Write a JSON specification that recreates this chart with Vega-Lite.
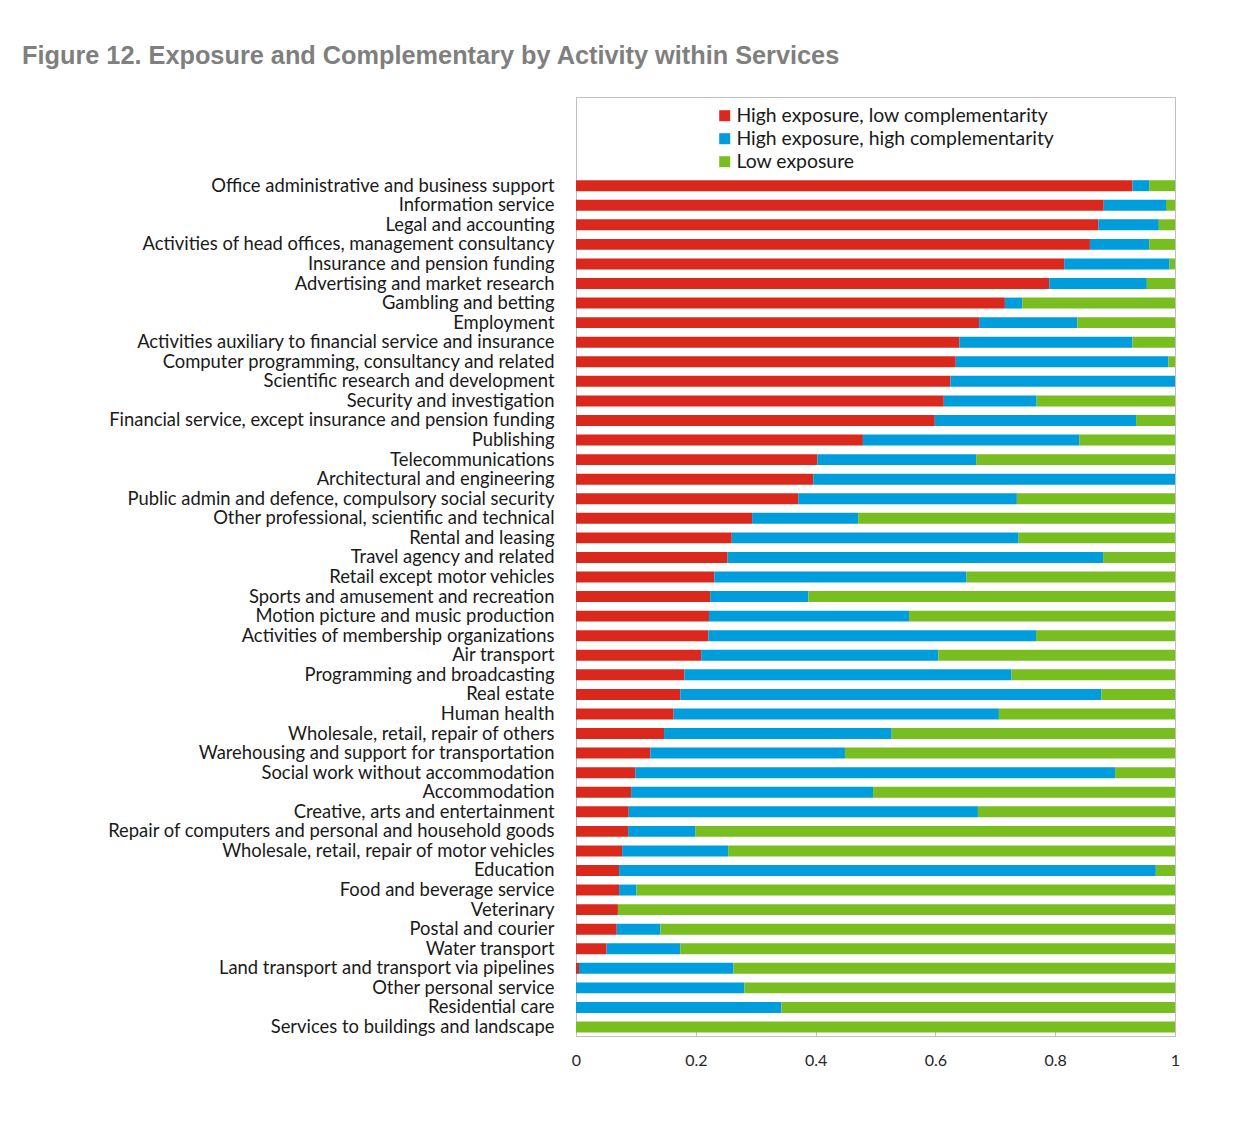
{
  "$schema": "https://vega.github.io/schema/vega-lite/v6.json",
  "autosize": {"type": "none"},
  "padding": {"left": 576, "top": 97, "right": 77, "bottom": 92},
  "width": 599,
  "height": 939,
  "background": "white",
  "title": {
    "text": "Figure 12. Exposure and Complementary by Activity within Services",
    "anchor": "start",
    "frame": "group",
    "dx": -554,
    "offset": 8,
    "baseline": "alphabetic",
    "font": "Liberation Sans",
    "fontSize": 25.3,
    "fontWeight": "bold",
    "color": "#7f7f7f"
  },
  "data": {
    "values": [
      {"activity": "Office administrative and business support", "High exposure, low complementarity": 0.929, "High exposure, high complementarity": 0.028, "Low exposure": 0.043},
      {"activity": "Information service", "High exposure, low complementarity": 0.881, "High exposure, high complementarity": 0.104, "Low exposure": 0.015},
      {"activity": "Legal and accounting", "High exposure, low complementarity": 0.872, "High exposure, high complementarity": 0.101, "Low exposure": 0.027},
      {"activity": "Activities of head offices, management consultancy", "High exposure, low complementarity": 0.858, "High exposure, high complementarity": 0.099, "Low exposure": 0.043},
      {"activity": "Insurance and pension funding", "High exposure, low complementarity": 0.815, "High exposure, high complementarity": 0.176, "Low exposure": 0.009},
      {"activity": "Advertising and market research", "High exposure, low complementarity": 0.790, "High exposure, high complementarity": 0.163, "Low exposure": 0.047},
      {"activity": "Gambling and betting", "High exposure, low complementarity": 0.716, "High exposure, high complementarity": 0.029, "Low exposure": 0.255},
      {"activity": "Employment", "High exposure, low complementarity": 0.673, "High exposure, high complementarity": 0.164, "Low exposure": 0.163},
      {"activity": "Activities auxiliary to financial service and insurance", "High exposure, low complementarity": 0.640, "High exposure, high complementarity": 0.289, "Low exposure": 0.071},
      {"activity": "Computer programming, consultancy and related", "High exposure, low complementarity": 0.634, "High exposure, high complementarity": 0.355, "Low exposure": 0.011},
      {"activity": "Scientific research and development", "High exposure, low complementarity": 0.625, "High exposure, high complementarity": 0.375, "Low exposure": 0},
      {"activity": "Security and investigation", "High exposure, low complementarity": 0.614, "High exposure, high complementarity": 0.155, "Low exposure": 0.231},
      {"activity": "Financial service, except insurance and pension funding", "High exposure, low complementarity": 0.599, "High exposure, high complementarity": 0.336, "Low exposure": 0.065},
      {"activity": "Publishing", "High exposure, low complementarity": 0.479, "High exposure, high complementarity": 0.361, "Low exposure": 0.160},
      {"activity": "Telecommunications", "High exposure, low complementarity": 0.403, "High exposure, high complementarity": 0.265, "Low exposure": 0.332},
      {"activity": "Architectural and engineering", "High exposure, low complementarity": 0.396, "High exposure, high complementarity": 0.604, "Low exposure": 0},
      {"activity": "Public admin and defence, compulsory social security", "High exposure, low complementarity": 0.371, "High exposure, high complementarity": 0.365, "Low exposure": 0.264},
      {"activity": "Other professional, scientific and technical", "High exposure, low complementarity": 0.294, "High exposure, high complementarity": 0.177, "Low exposure": 0.529},
      {"activity": "Rental and leasing", "High exposure, low complementarity": 0.260, "High exposure, high complementarity": 0.479, "Low exposure": 0.261},
      {"activity": "Travel agency and related", "High exposure, low complementarity": 0.253, "High exposure, high complementarity": 0.627, "Low exposure": 0.120},
      {"activity": "Retail except motor vehicles", "High exposure, low complementarity": 0.231, "High exposure, high complementarity": 0.421, "Low exposure": 0.348},
      {"activity": "Sports  and amusement and recreation", "High exposure, low complementarity": 0.224, "High exposure, high complementarity": 0.164, "Low exposure": 0.612},
      {"activity": "Motion picture and music production", "High exposure, low complementarity": 0.222, "High exposure, high complementarity": 0.334, "Low exposure": 0.444},
      {"activity": "Activities of membership organizations", "High exposure, low complementarity": 0.221, "High exposure, high complementarity": 0.547, "Low exposure": 0.232},
      {"activity": "Air transport", "High exposure, low complementarity": 0.209, "High exposure, high complementarity": 0.396, "Low exposure": 0.395},
      {"activity": "Programming and broadcasting", "High exposure, low complementarity": 0.181, "High exposure, high complementarity": 0.546, "Low exposure": 0.273},
      {"activity": "Real estate", "High exposure, low complementarity": 0.174, "High exposure, high complementarity": 0.703, "Low exposure": 0.123},
      {"activity": "Human health", "High exposure, low complementarity": 0.163, "High exposure, high complementarity": 0.543, "Low exposure": 0.294},
      {"activity": "Wholesale, retail, repair of others", "High exposure, low complementarity": 0.147, "High exposure, high complementarity": 0.380, "Low exposure": 0.473},
      {"activity": "Warehousing and support  for transportation", "High exposure, low complementarity": 0.124, "High exposure, high complementarity": 0.325, "Low exposure": 0.551},
      {"activity": "Social work  without accommodation", "High exposure, low complementarity": 0.099, "High exposure, high complementarity": 0.801, "Low exposure": 0.100},
      {"activity": "Accommodation", "High exposure, low complementarity": 0.092, "High exposure, high complementarity": 0.404, "Low exposure": 0.504},
      {"activity": "Creative, arts and entertainment", "High exposure, low complementarity": 0.088, "High exposure, high complementarity": 0.583, "Low exposure": 0.329},
      {"activity": "Repair of computers and personal and household goods", "High exposure, low complementarity": 0.087, "High exposure, high complementarity": 0.112, "Low exposure": 0.801},
      {"activity": "Wholesale, retail, repair of motor vehicles", "High exposure, low complementarity": 0.077, "High exposure, high complementarity": 0.177, "Low exposure": 0.746},
      {"activity": "Education", "High exposure, low complementarity": 0.072, "High exposure, high complementarity": 0.896, "Low exposure": 0.032},
      {"activity": "Food and beverage service", "High exposure, low complementarity": 0.072, "High exposure, high complementarity": 0.029, "Low exposure": 0.899},
      {"activity": "Veterinary", "High exposure, low complementarity": 0.070, "High exposure, high complementarity": 0, "Low exposure": 0.930},
      {"activity": "Postal and courier", "High exposure, low complementarity": 0.068, "High exposure, high complementarity": 0.073, "Low exposure": 0.859},
      {"activity": "Water transport", "High exposure, low complementarity": 0.051, "High exposure, high complementarity": 0.123, "Low exposure": 0.826},
      {"activity": "Land transport and transport via pipelines", "High exposure, low complementarity": 0.005, "High exposure, high complementarity": 0.258, "Low exposure": 0.737},
      {"activity": "Other personal service", "High exposure, low complementarity": 0, "High exposure, high complementarity": 0.281, "Low exposure": 0.719},
      {"activity": "Residential care", "High exposure, low complementarity": 0, "High exposure, high complementarity": 0.343, "Low exposure": 0.657},
      {"activity": "Services to buildings and landscape", "High exposure, low complementarity": 0, "High exposure, high complementarity": 0, "Low exposure": 1}
    ]
  },
  "transform": [
    {"fold": ["High exposure, low complementarity", "High exposure, high complementarity", "Low exposure"], "as": ["segment", "share"]},
    {"calculate": "indexof(['High exposure, low complementarity', 'High exposure, high complementarity', 'Low exposure'], datum.segment)", "as": "k"}
  ],
  "mark": {"type": "bar"},
  "encoding": {
    "y": {
      "field": "activity",
      "type": "nominal",
      "sort": null,
      "scale": {"paddingInner": 0.44, "paddingOuter": 0, "range": [83.2, 935.5]},
      "axis": {
        "title": null,
        "ticks": false,
        "domain": false,
        "labelFont": "Lato",
        "labelFontSize": 18.4,
        "labelColor": "#1a1a1a",
        "labelPadding": 22,
        "labelLimit": 600
      }
    },
    "x": {
      "field": "share",
      "type": "quantitative",
      "stack": "zero",
      "scale": {"domain": [0, 1], "nice": false},
      "axis": {
        "title": null,
        "grid": false,
        "domain": false,
        "values": [0, 0.2, 0.4, 0.6, 0.8, 1],
        "format": "~g",
        "tickSize": -5,
        "tickColor": "#bfbfbf",
        "labelFlush": false,
        "labelFont": "Lato",
        "labelFontSize": 16,
        "labelColor": "#262626",
        "labelPadding": 21
      }
    },
    "color": {
      "field": "segment",
      "type": "nominal",
      "scale": {
        "domain": ["High exposure, low complementarity", "High exposure, high complementarity", "Low exposure"],
        "range": ["#DA291C", "#009DDC", "#78BE21"]
      },
      "legend": {
        "title": null,
        "orient": "none",
        "legendX": 139,
        "legendY": 9,
        "padding": 0,
        "symbolType": "square",
        "symbolSize": 121,
        "symbolStrokeWidth": 0,
        "labelFont": "Lato",
        "labelFontSize": 19.4,
        "labelColor": "#1a1a1a",
        "labelOffset": 2,
        "rowPadding": 2,
        "labelLimit": 500
      }
    },
    "order": {"field": "k", "type": "quantitative"}
  },
  "config": {
    "view": {"stroke": "#bfbfbf", "strokeWidth": 1}
  }
}
